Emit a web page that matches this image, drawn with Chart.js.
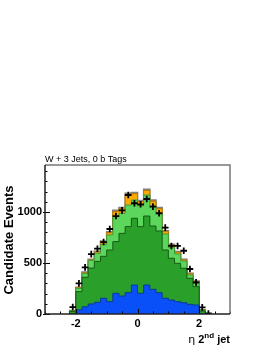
<!DOCTYPE html>
<html><head><meta charset="utf-8">
<script src="https://cdn.jsdelivr.net/npm/chart.js@4.4.1/dist/chart.umd.min.js"></script>
<style>html,body{margin:0;padding:0;background:#fff;}canvas{display:block;}</style>
</head><body>
<canvas id="c" width="270" height="349"></canvas>
<script>
// ---- data ----
const binCenters = [-2.1,-1.9,-1.7,-1.5,-1.3,-1.1,-0.9,-0.7,-0.5,-0.3,-0.1,0.1,0.3,0.5,0.7,0.9,1.1,1.3,1.5,1.7,1.9,2.1];
const binWidth = 0.2;
const bkgBlue       = [0,40,70,98,115,154,121,203,176,209,284,203,284,242,209,154,137,121,110,95,88,0];
const bkgDarkGreen  = [25,179,290,352,400,411,506,506,614,647,654,653,676,620,604,473,409,376,338,255,180,29];
const bkgLightGreen = [7,32,38,75,80,115,148,246,197,212,179,204,206,196,173,157,104,91,71,32,32,7];
const bkgOrange     = [2,7,7,5,13,27,22,50,46,104,61,40,44,48,46,24,26,17,11,12,19,4];
const bkgBrown      = [0,4,5,6,7,8,8,10,10,11,11,11,12,11,10,8,7,6,6,5,4,0];
const dataCenters   = [-2.1,-1.9,-1.7,-1.5,-1.3,-1.1,-0.9,-0.7,-0.5,-0.3,-0.1,0.1,0.3,0.5,0.7,0.9,1.1,1.3,1.5,1.7,1.9,2.1,2.3];
const dataCounts    = [68,300,457,587,640,705,833,960,1015,1166,1085,1075,1127,1052,987,846,667,667,620,441,310,65,5];
const xTickLabels = [-2,0,2];
const yTickLabels = [0,500,1000];
const xMinorStep = 0.5, yMinorStep = 100;
const xRange = [-3,3], yRange = [0,1460];

// ---- build cumulative step outlines ----
function cumulate(layers){
  const out=[]; let run=binCenters.map(()=>0);
  layers.forEach(l=>{ run=run.map((v,i)=>v+l[i]); out.push(run.slice()); });
  return out;
}
const cums = cumulate([bkgBlue,bkgDarkGreen,bkgLightGreen,bkgOrange,bkgBrown]);
function stepPoints(vals){
  const pts=[{x:binCenters[0]-binWidth/2,y:0}];
  binCenters.forEach((c,i)=>pts.push({x:c-binWidth/2,y:vals[i]}));
  const last=binCenters.length-1;
  pts.push({x:binCenters[last]+binWidth/2,y:vals[last]});
  pts.push({x:binCenters[last]+binWidth/2,y:0});
  return pts;
}
const fills   = ['#0a50f8','#2aa02a','#5cd65c','#ffaa00','#a0581e'];
const borders = ['#0a3a9a','#145a14','#3d9a3d','#c07800','#808080'];
const bwidths = [1,1,1,1,1.6];
const histSets = cums.map((cv,k)=>({
  type:'line', data:stepPoints(cv), stepped:'before', fill:'origin',
  backgroundColor:fills[k], borderColor:borders[k], borderWidth:bwidths[k],
  pointRadius:0, order:k, tension:0
}));
const dataSet = {
  type:'line', data:dataCenters.map((c,i)=>({x:c,y:dataCounts[i]})), showLine:false,
  pointStyle:'cross', pointRadius:3.3, borderColor:'#000', backgroundColor:'#000',
  pointBorderWidth:1.8, order:-1
};

const frame = {
  id:'frame',
  afterDatasetsDraw(chart){
    const {ctx, chartArea:a, scales:{x,y}} = chart;
    ctx.save();
    ctx.strokeStyle='#000'; ctx.lineWidth=1;
    for(let v=xRange[0]; v<=xRange[1]+1e-9; v+=xMinorStep){
      const px=Math.round(x.getPixelForValue(v))+0.5;
      const major = xTickLabels.includes(Math.round(v*10)/10);
      ctx.beginPath(); ctx.moveTo(px,a.bottom); ctx.lineTo(px,a.bottom-(major?5:2.5)); ctx.stroke();
    }
    for(let v=yRange[0]; v<=yRange[1]; v+=yMinorStep){
      const py=Math.round(y.getPixelForValue(v))+0.5;
      const major = yTickLabels.includes(v);
      ctx.beginPath(); ctx.moveTo(a.left-(major?2:0),py); ctx.lineTo(a.left+(major?5:2.5),py); ctx.stroke();
    }
    ctx.lineWidth=1.5; ctx.strokeStyle='#777';
    ctx.beginPath(); ctx.moveTo(a.left,a.top); ctx.lineTo(a.right,a.top); ctx.lineTo(a.right,a.bottom); ctx.stroke();
    ctx.strokeStyle='#222';
    ctx.beginPath(); ctx.moveTo(a.left,a.top); ctx.lineTo(a.left,a.bottom); ctx.lineTo(a.right,a.bottom); ctx.stroke();
    ctx.restore();
  },
  afterDraw(chart){
    const {ctx, chartArea:a} = chart;
    ctx.save();
    ctx.fillStyle='#000';
    ctx.font='9px "Liberation Sans", Arial, sans-serif';
    ctx.textAlign='left'; ctx.textBaseline='alphabetic';
    ctx.fillText('W + 3 Jets, 0 b Tags', a.left, 161.5);
    ctx.save();
    ctx.translate(12.5, 240); ctx.rotate(-Math.PI/2);
    ctx.font='bold 13px "Liberation Sans", Arial, sans-serif';
    ctx.textAlign='center';
    ctx.fillText('Candidate Events', 0, 0);
    ctx.restore();
    const parts=[
      {t:'η', f:'11px "DejaVu Sans", sans-serif', dy:0},
      {t:' 2', f:'bold 11px "Liberation Sans", Arial, sans-serif', dy:0},
      {t:'nd', f:'bold 8px "Liberation Sans", Arial, sans-serif', dy:-5},
      {t:' jet', f:'bold 11px "Liberation Sans", Arial, sans-serif', dy:0}
    ];
    let w=0; parts.forEach(p=>{ctx.font=p.f; p.w=ctx.measureText(p.t).width; w+=p.w;});
    let xx=a.right-w; const base=343;
    parts.forEach(p=>{ctx.font=p.f; ctx.fillText(p.t,xx,base+p.dy); xx+=p.w;});
    ctx.restore();
  }
};

new Chart(document.getElementById('c'), {
  type:'line',
  data:{datasets:[...histSets, dataSet]},
  options:{
    responsive:false, animation:false, devicePixelRatio:1,
    layout:{padding:{left:0,top:165,right:40,bottom:0}},
    plugins:{legend:{display:false}, tooltip:{enabled:false}},
    scales:{
      x:{type:'linear', min:xRange[0], max:xRange[1],
         grid:{display:false, drawTicks:false}, border:{display:false},
         afterBuildTicks(s){ s.ticks = xTickLabels.map(v=>({value:v})); },
         afterFit(s){ s.height = 35; },
         ticks:{padding:3, color:'#000', font:{family:'"Liberation Sans", Arial, sans-serif', weight:'bold', size:11}, maxRotation:0,
                callback:v=>String(v)}},
      y:{type:'linear', min:yRange[0], max:yRange[1],
         grid:{display:false, drawTicks:false}, border:{display:false},
         afterBuildTicks(s){ s.ticks = yTickLabels.map(v=>({value:v})); },
         afterFit(s){ s.width = 45; },
         ticks:{padding:3, color:'#000', font:{family:'"Liberation Sans", Arial, sans-serif', weight:'bold', size:11},
                callback:v=>String(v)}}
    }
  },
  plugins:[frame]
});
</script>
</body></html>
